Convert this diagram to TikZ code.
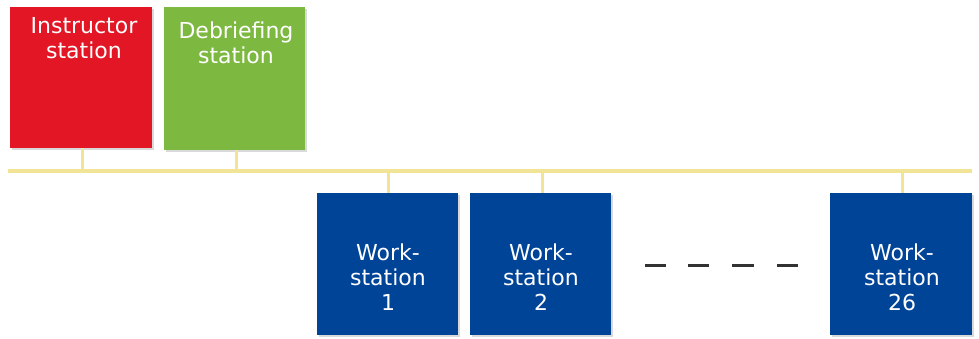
\documentclass[tikz,border=0pt]{standalone}
\usepackage{fontspec}
\setmainfont{DejaVu Sans}
\usetikzlibrary{shadows}
\definecolor{instred}{RGB}{226,22,36}
\definecolor{debgreen}{RGB}{125,184,64}
\definecolor{wsblue}{RGB}{0,68,152}
\definecolor{busyellow}{RGB}{242,228,150}
\definecolor{dashgray}{RGB}{50,50,50}
\begin{document}
\begin{tikzpicture}[x=1pt,y=-1pt,
  stationbox/.style={minimum width=142pt,minimum height=142pt,inner sep=0pt,anchor=north west,
    drop shadow={shadow xshift=1.5pt,shadow yshift=-1.5pt,opacity=0.3,fill=gray}},
  stationtext/.style={text=white,font=\fontsize{22}{25}\selectfont,align=center,anchor=north,inner sep=0pt},
  bus/.style={draw=busyellow,line width=3.5pt},
  stub/.style={draw=busyellow,line width=3pt},
  dots/.style={draw=dashgray,line width=3pt}]
\useasboundingbox (0,0) rectangle (979,338);
\node[stationbox,fill=instred,minimum height=141pt] (instr) at (10,7) {};
\node[stationtext] (instrtext) at (84,17) {Instructor\\station};
\node[stationbox,fill=debgreen,minimum width=141pt,minimum height=143pt] (debr) at (164,7) {};
\node[stationtext] (debrtext) at (236,22) {Debriefing\\station};
\node[stationbox,fill=wsblue,minimum width=141pt] (ws1) at (317,193) {};
\node[stationtext] (ws1text) at (388,244) {Work-\\station\\1};
\node[stationbox,fill=wsblue,minimum width=141pt] (ws2) at (470,193) {};
\node[stationtext] (ws2text) at (541,244) {Work-\\station\\2};
\node[stationbox,fill=wsblue] (ws26) at (830,193) {};
\node[stationtext] (ws26text) at (902,244) {Work-\\station\\26};
\coordinate (busL) at (8,171);
\coordinate (busR) at (972,171);
\draw[bus] (busL) -- (busR);
\draw[stub] (instr.south -| 82,0) -- (82,171);
\draw[stub] (debr.south -| 236,0) -- (236,171);
\draw[stub] (ws1.north -| 388,0) -- (388,171);
\draw[stub] (ws2.north -| 542,0) -- (542,171);
\draw[stub] (ws26.north -| 902,0) -- (902,171);
\foreach \a/\b in {645/666,688/709,732/754,777/798}{
  \draw[dots] (\a,265) -- (\b,265);
}
\end{tikzpicture}
\end{document}
